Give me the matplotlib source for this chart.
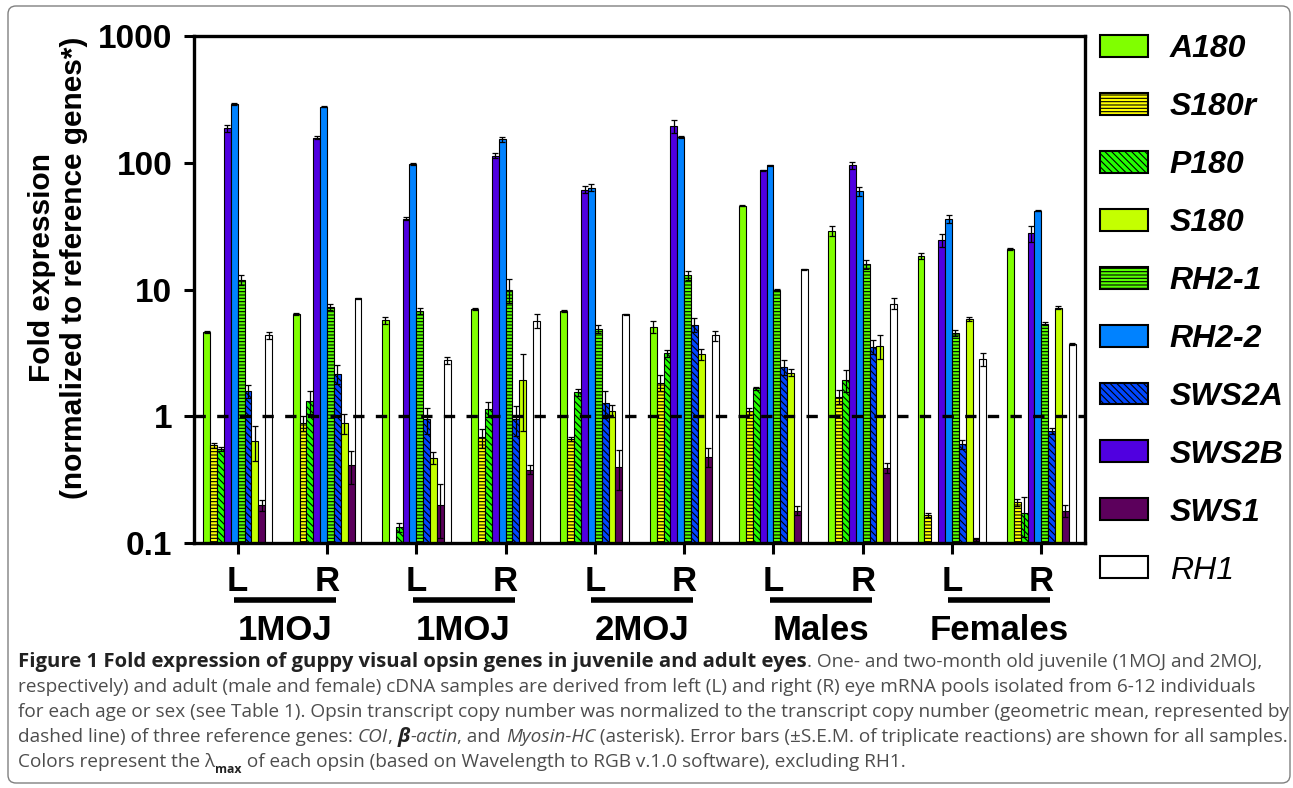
import numpy as np
import matplotlib
matplotlib.use('Agg')
import matplotlib.pyplot as plt
from matplotlib.patches import Patch, FancyBboxPatch
from matplotlib.lines import Line2D

# ---------------- data ----------------
sample_labels = ['L', 'R', 'L', 'R', 'L', 'R', 'L', 'R', 'L', 'R']
group_labels = ['1MOJ', '1MOJ', '2MOJ', 'Males', 'Females']

legend_genes = ['A180', 'S180r', 'P180', 'S180', 'RH2-1', 'RH2-2',
                'SWS2A', 'SWS2B', 'SWS1', 'RH1']
bar_order = ['A180', 'S180r', 'P180', 'SWS2B', 'RH2-2', 'RH2-1',
             'SWS2A', 'S180', 'SWS1', 'RH1']

nan = np.nan
A180 = [4.6, 6.4, 5.7, 7.0, 6.8, 5.1, 45.8, 29.1, 18.4, 20.8]
S180r = [0.59, 0.88, nan, 0.68, 0.66, 1.84, 1.10, 1.43, 0.166, 0.21]
P180 = [0.55, 1.31, 0.133, 1.14, 1.55, 3.13, 1.66, 1.92, nan, 0.172]
S180 = [0.64, 0.88, 0.47, 1.92, 1.10, 3.08, 2.21, 3.61, 5.86, 7.18]
RH2_1 = [11.9, 7.3, 6.8, 9.9, 4.9, 12.9, 9.9, 15.8, 4.53, 5.35]
RH2_2 = [289, 277, 97.6, 153, 63.5, 160, 95.8, 59.7, 36.1, 41.8]
SWS2A = [1.57, 2.17, 0.95, 0.95, 1.27, 5.28, 2.45, 3.54, 0.60, 0.77]
SWS2B = [188, 158, 36.1, 114, 61.5, 194, 87.4, 95.8, 24.5, 27.7]
SWS1 = [0.20, 0.41, 0.20, 0.38, 0.40, 0.48, 0.18, 0.39, 0.107, 0.18]
RH1 = [4.34, 8.5, 2.77, 5.69, 6.35, 4.34, 14.4, 7.73, 2.82, 3.70]

A180_err = [0.1, 0.1, 0.35, 0.1, 0.15, 0.55, 0.5, 2.6, 1.0, 0.3]
S180r_err = [0.03, 0.12, nan, 0.12, 0.02, 0.26, 0.07, 0.19, 0.005, 0.014]
P180_err = [0.02, 0.27, 0.01, 0.15, 0.1, 0.2, 0.05, 0.38, nan, 0.06]
S180_err = [0.2, 0.16, 0.05, 1.2, 0.12, 0.3, 0.14, 0.8, 0.18, 0.22]
RH2_1_err = [1.0, 0.4, 0.4, 2.1, 0.35, 1.0, 0.2, 1.2, 0.27, 0.15]
RH2_2_err = [5, 4, 2, 8, 4, 3, 1, 5, 2.7, 0.5]
SWS2A_err = [0.18, 0.36, 0.22, 0.25, 0.3, 0.7, 0.32, 0.46, 0.05, 0.04]
SWS2B_err = [12, 4, 1, 5, 4, 22, 1, 6, 2.7, 3.9]
SWS1_err = [0.02, 0.12, 0.09, 0.03, 0.14, 0.08, 0.015, 0.036, 0.003, 0.02]
RH1_err = [0.3, 0.1, 0.17, 0.7, 0.05, 0.4, 0.1, 0.77, 0.35, 0.05]

values = {'A180': A180, 'S180r': S180r, 'P180': P180, 'S180': S180,
          'RH2-1': RH2_1, 'RH2-2': RH2_2, 'SWS2A': SWS2A, 'SWS2B': SWS2B,
          'SWS1': SWS1, 'RH1': RH1}
errors = {'A180': A180_err, 'S180r': S180r_err, 'P180': P180_err,
          'S180': S180_err, 'RH2-1': RH2_1_err, 'RH2-2': RH2_2_err,
          'SWS2A': SWS2A_err, 'SWS2B': SWS2B_err, 'SWS1': SWS1_err,
          'RH1': RH1_err}

# ---------------- styles ----------------
colors = {'A180': '#80FF00', 'S180r': '#FFFF00', 'P180': '#22FF00',
          'S180': '#C4FF00', 'RH2-1': '#55FF00', 'RH2-2': '#0082FF',
          'SWS2A': '#0046FF', 'SWS2B': '#5000E0', 'SWS1': '#5C005C',
          'RH1': '#FFFFFF'}
hatches = {'S180r': '-----', 'RH2-1': '-----', 'P180': '\\\\\\\\\\',
           'SWS2A': '\\\\\\\\\\'}

plt.rcParams['hatch.linewidth'] = 0.8
plt.rcParams['font.family'] = ['Liberation Sans', 'DejaVu Sans']

W, H = 1293, 788
fig = plt.figure(figsize=(W / 100, H / 100), dpi=100)
ax = fig.add_axes([194 / W, 1 - 543 / H, (1085 - 194) / W, (543 - 36) / H])

x = np.arange(len(sample_labels))
bw = 0.077
for k, g in enumerate(bar_order):
    off = (k - 4.5) * bw
    v = np.array(values[g], dtype=float)
    e = np.array(errors[g], dtype=float)
    ax.bar(x + off, v, width=bw, color=colors[g], edgecolor='black',
           linewidth=0.8, hatch=hatches.get(g, None), zorder=2)
    lower = np.minimum(e, v * 0.6)
    ax.errorbar(x + off, v, yerr=[lower, e], fmt='none', ecolor='black',
                elinewidth=0.9, capsize=2.2, capthick=0.9, zorder=3)

ax.axhline(1, color='black', lw=2.4, dashes=(3.4, 3.4), zorder=5)

ax.set_yscale('log')
ax.set_ylim(0.1, 1000)
ax.set_xlim(-0.49, 9.49)
ax.set_yticks([0.1, 1, 10, 100, 1000])
ax.set_yticklabels(['0.1', '1', '10', '100', '1000'])
ax.minorticks_off()
ax.set_xticks(x)
ax.set_xticklabels(sample_labels)
for sp in ax.spines.values():
    sp.set_linewidth(2.4)
ax.tick_params(axis='y', length=7.5, width=2.2, labelsize=24, pad=8)
ax.tick_params(axis='x', length=8, width=2.2, labelsize=25, pad=8)
for t in ax.get_yticklabels():
    t.set_fontweight('bold')
for t in ax.get_xticklabels():
    t.set_fontweight('bold')

ax.set_ylabel('Fold expression\n(normalized to reference genes*)',
              fontsize=21.5, fontweight='bold', linespacing=1.2)
ax.yaxis.set_label_coords((88 - 194) / 891, (543 - 268) / 507)

# group underlines and labels
trans = ax.get_xaxis_transform()
for i, gl in enumerate(group_labels):
    x0, x1 = 2 * i - 0.04, 2 * i + 1 + 0.1
    ax.add_line(Line2D([x0, x1], [-0.112, -0.112], transform=trans,
                       color='black', lw=4, clip_on=False,
                       solid_capstyle='butt'))
    ax.text((x0 + x1) / 2, -0.172, gl, transform=trans, ha='center',
            va='center', fontsize=25, fontweight='bold')

# legend
handles = [Patch(facecolor=colors[g], edgecolor='black', linewidth=1.5,
                 hatch=hatches.get(g, None)) for g in legend_genes]
leg = fig.legend(handles, legend_genes, loc='upper left',
                 bbox_to_anchor=(1100 / W, 1 - 34 / H), frameon=False,
                 prop={'size': 23, 'weight': 'bold', 'style': 'italic'},
                 handlelength=1.5, handleheight=0.68, labelspacing=0.875,
                 handletextpad=0.68, borderpad=0, borderaxespad=0)
leg.get_texts()[-1].set_fontweight('normal')

# border
fig.add_artist(FancyBboxPatch((8, 5), 1282, 777, transform=None,
                              boxstyle='round,pad=0,rounding_size=8',
                              facecolor='none', edgecolor='#808080', lw=1))

# caption
cap_lines = [
    [('Figure 1 Fold expression of guppy visual opsin genes in juvenile and adult eyes', 'b'),
     ('. One- and two-month old juvenile (1MOJ and 2MOJ,', 'r')],
    [('respectively) and adult (male and female) cDNA samples are derived from left (L) and right (R) eye mRNA pools isolated from 6-12 individuals', 'r')],
    [('for each age or sex (see Table 1). Opsin transcript copy number was normalized to the transcript copy number (geometric mean, represented by', 'r')],
    [('dashed line) of three reference genes: ', 'r'), ('COI', 'i'), (', ', 'r'),
     ('\u03b2', 'bi'), ('-actin', 'i'), (', and ', 'r'), ('Myosin-HC', 'i'),
     (' (asterisk). Error bars (\u00b1S.E.M. of triplicate reactions) are shown for all samples.', 'r')],
    [('Colors represent the \u03bb', 'r'), ('max', 'sub'),
     (' of each opsin (based on Wavelength to RGB v.1.0 software), excluding RH1.', 'r')],
]
cap_font = ['Open Sans', 'DejaVu Sans']
renderer = fig.canvas.get_renderer()
sizes = {'r': 12.0, 'b': 12.0}


def seg_props(style):
    base = sizes['b'] if 'b' in style else sizes['r']
    p = dict(family=cap_font, fontsize=base, color='#4d4d4d',
             fontweight='normal', fontstyle='normal')
    if 'b' in style:
        p['fontweight'] = 'bold'
        p['color'] = '#222222'
    if 'i' in style:
        p['fontstyle'] = 'italic'
    if style == 'sub':
        p['fontsize'] = sizes['r'] * 0.65
    return p


def draw_line(segs, x0, ybase, draw=True):
    xx = x0
    arts = []
    for txt, st in segs:
        yy = ybase - (sizes['r'] * 0.3 * 100 / 72 if st == 'sub' else 0)
        t = fig.text(xx, yy, txt, transform=None, va='baseline', ha='left',
                     **seg_props(st))
        bb = t.get_window_extent(renderer)
        xx += bb.width
        arts.append(t)
    if not draw:
        for a in arts:
            a.remove()
    return xx - x0


# size the caption fonts so the lines span the same widths as the reference
wb = draw_line([cap_lines[0][0]], 0, 0, draw=False)
wr = draw_line(cap_lines[2], 0, 0, draw=False)
sizes['b'] = 12.0 * (803 - 18) / wb
sizes['r'] = 12.0 * (1281 - 18) / wr

baselines = [667, 692, 717, 742, 767]
for segs, yb in zip(cap_lines, baselines):
    draw_line(segs, 18, H - yb)

fig.savefig('out.png', dpi=100)
